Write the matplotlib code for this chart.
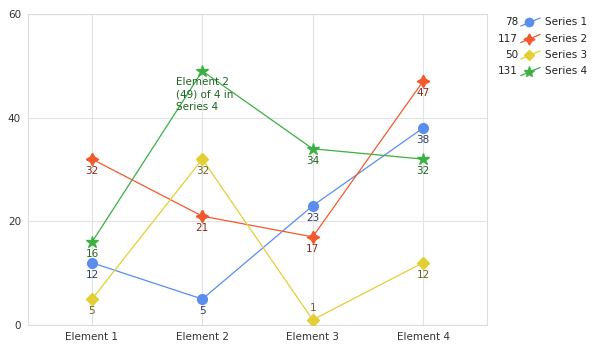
import matplotlib.pyplot as plt
from matplotlib.lines import Line2D

categories = ['Element 1', 'Element 2', 'Element 3', 'Element 4']
series_names = ['Series 1', 'Series 2', 'Series 3', 'Series 4']
series_1 = [12, 5, 23, 38]
series_2 = [32, 21, 17, 47]
series_3 = [5, 32, 1, 12]
series_4 = [16, 49, 34, 32]
y_ticks = [0, 20, 40, 60]

all_series = [series_1, series_2, series_3, series_4]
colors = ['#5b8def', '#f25a2e', '#e3cf34', '#3cb043']
label_colors = ['#2b3d66', '#8a2a18', '#6e6420', '#1f6420']
markers = ['o', (4, 1, 0), 'D', '*']
msizes = [7, 9, 6, 9]

# the highlighted point (series index, element index) shows a tooltip instead of a label
hl_series, hl_elem = 3, 1

plt.rcParams['font.family'] = ['DejaVu Sans']
fig = plt.figure(figsize=(5.92, 3.51), dpi=100)
ax = fig.add_axes([28 / 592, 1 - 325 / 351, (487 - 28) / 592, (325 - 14) / 351])

xs = list(range(len(categories)))
for si, (vals, c, lc, m, ms) in enumerate(zip(all_series, colors, label_colors, markers, msizes)):
    ax.plot(xs, vals, color=c, lw=0.9, marker=m, markersize=ms,
            markeredgecolor=c, zorder=3)
    for x, v in zip(xs, vals):
        if (si, x) == (hl_series, hl_elem):
            continue
        # labels go below the point unless there is no room
        if v < 3:
            ax.annotate(str(v), (x, v), xytext=(0, 7), textcoords='offset pixels',
                        ha='center', va='bottom', fontsize=7.5, color=lc, zorder=4)
        else:
            ax.annotate(str(v), (x, v), xytext=(0, -7), textcoords='offset pixels',
                        ha='center', va='top', fontsize=7.5, color=lc, zorder=4)

hl_val = all_series[hl_series][hl_elem]
ax.text(hl_elem - 0.235, hl_val - 1.1,
        f'{categories[hl_elem]}\n({hl_val}) of {len(categories)} in\n{series_names[hl_series]}',
        fontsize=7.5, color=label_colors[hl_series], va='top', ha='left',
        linespacing=1.3, zorder=5)

ax.set_xlim(-0.58, 3.58)
ax.set_ylim(0, 60)
ax.set_xticks(xs)
ax.set_xticklabels(categories)
ax.set_yticks(y_ticks)
ax.grid(True, color='#e2e2e2', lw=0.8)
ax.set_axisbelow(True)
for s in ax.spines.values():
    s.set_color('#dddddd')
    s.set_linewidth(0.8)
ax.tick_params(length=0, labelsize=7.5, colors='#333333', pad=5)

# legend with totals
lax = fig.add_axes([490 / 592, 1 - 85 / 351, 102 / 592, 80 / 351])
lax.set_xlim(0, 102)
lax.set_ylim(80, 0)
lax.axis('off')
for i, (name, vals, c, m, ms) in enumerate(zip(series_names, all_series, colors, markers, msizes)):
    y = 17 + 16.5 * i
    lax.text(28, y, str(sum(vals)), ha='right', va='center', fontsize=7.5, color='#222222')
    lax.add_line(Line2D([31, 50], [y + 4, y - 4], color=c, lw=0.9))
    lax.plot([39], [y], marker=m, markersize=ms - 1, color=c)
    lax.text(55, y, name, ha='left', va='center', fontsize=7.5, color='#222222')

fig.savefig('out.png', dpi=100)
